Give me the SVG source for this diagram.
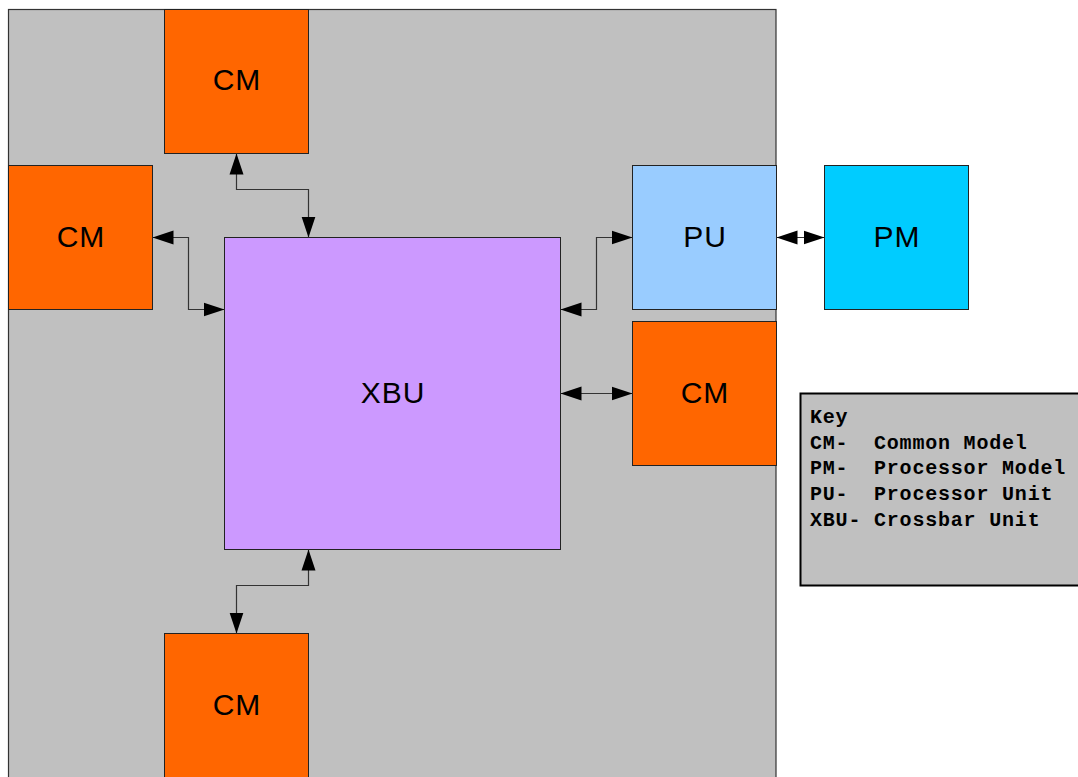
<svg xmlns="http://www.w3.org/2000/svg" width="1078" height="777" viewBox="0 0 1078 777">
<style>
.box{stroke:#222;stroke-width:1}
.cm{fill:#ff6600}
.lbl{font-family:"Liberation Sans",Arial,sans-serif;font-size:30px;fill:#000;text-anchor:middle;letter-spacing:1px}
.conn{fill:none;stroke:#333;stroke-width:1.2}
.key{font-family:"Liberation Mono","Courier New",monospace;font-size:20px;font-weight:bold;fill:#000;letter-spacing:0.8px;white-space:pre}
</style>
<defs>
<marker id="ah" markerUnits="userSpaceOnUse" markerWidth="22" markerHeight="16" refX="21" refY="7" orient="auto-start-reverse" viewBox="0 0 22 14">
<path d="M0,0 L21,7 L0,14 Z" fill="#000"/>
</marker>
</defs>
<rect width="1078" height="777" fill="#ffffff"/>
<g id="background">
<rect x="8.5" y="9.5" width="767.5" height="780" fill="#c0c0c0" stroke="#333" stroke-width="1.2"/>
</g>
<g id="cm-top"><rect class="box cm" x="164.5" y="9.5" width="144" height="144"/><text class="lbl" x="237" y="90">CM</text></g>
<g id="cm-left"><rect class="box cm" x="8.5" y="165.5" width="144" height="144"/><text class="lbl" x="81" y="247">CM</text></g>
<g id="xbu"><rect class="box" fill="#cc99ff" x="224.5" y="237.5" width="336" height="312"/><text class="lbl" x="393" y="403">XBU</text></g>
<g id="pu"><rect class="box" fill="#99ccff" x="632.5" y="165.5" width="144" height="144"/><text class="lbl" x="705" y="247">PU</text></g>
<g id="pm"><rect class="box" fill="#00ccff" x="824.5" y="165.5" width="144" height="144"/><text class="lbl" x="897" y="247">PM</text></g>
<g id="cm-right"><rect class="box cm" x="632.5" y="321.5" width="144" height="144"/><text class="lbl" x="705" y="403">CM</text></g>
<g id="cm-bottom"><rect class="box cm" x="164.5" y="633.5" width="144" height="160"/><text class="lbl" x="237" y="715">CM</text></g>
<g id="key">
<rect x="800.5" y="393.5" width="290" height="192" fill="#c0c0c0" stroke="#000" stroke-width="2"/>
<text class="key" x="810" y="423" xml:space="preserve">Key</text>
<text class="key" x="810" y="449" xml:space="preserve">CM-  Common Model</text>
<text class="key" x="810" y="474" xml:space="preserve">PM-  Processor Model</text>
<text class="key" x="810" y="500" xml:space="preserve">PU-  Processor Unit</text>
<text class="key" x="810" y="526" xml:space="preserve">XBU- Crossbar Unit</text>
</g>
<g id="connectors">
<path class="conn" d="M236.5,153.5 V189.5 H308.5 V237.5" marker-start="url(#ah)" marker-end="url(#ah)"/>
<path class="conn" d="M152.5,237.5 H188.5 V309.5 H224.5" marker-start="url(#ah)" marker-end="url(#ah)"/>
<path class="conn" d="M560.5,309.5 H596.5 V237.5 H632.5" marker-start="url(#ah)" marker-end="url(#ah)"/>
<path class="conn" d="M560.5,393.5 H632.5" marker-start="url(#ah)" marker-end="url(#ah)"/>
<path class="conn" d="M776.5,237.5 H824.5" marker-start="url(#ah)" marker-end="url(#ah)"/>
<path class="conn" d="M308.5,549.5 V585.5 H236.5 V633.5" marker-start="url(#ah)" marker-end="url(#ah)"/>
</g>
</svg>
